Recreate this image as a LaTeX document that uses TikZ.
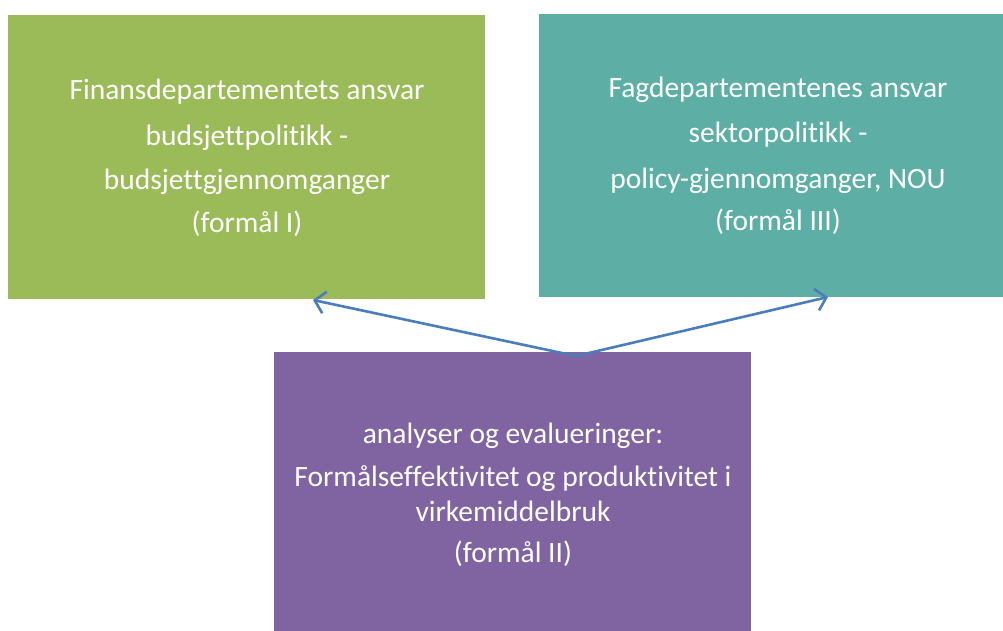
\documentclass[tikz,border=0pt]{standalone}
\usepackage{fontspec}
\setmainfont[Ligatures={NoCommon}]{Carlito}
\usetikzlibrary{arrows.meta}
\definecolor{boxgreen}{HTML}{9BBB59}
\definecolor{boxteal}{HTML}{5DAFA6}
\definecolor{boxpurple}{HTML}{8064A2}
\definecolor{arrowblue}{HTML}{4A7EBB}
\tikzset{
  box/.style={fill=#1, draw=none},
  boxtext/.style={text=white, align=center, font=\fontsize{29.5}{35}\selectfont, inner sep=0pt},
  link/.style={draw=arrowblue, line width=2.6pt, -{Straight Barb[length=10pt,width=22pt,line width=2.6pt]}}
}
\begin{document}
\begin{tikzpicture}[x=1pt,y=-1pt]
\useasboundingbox (0,0) rectangle (1003,630);
\begin{scope}
\clip (0,0) rectangle (1003,630);
\path[box=boxgreen] (8,15) rectangle (485,299);
\node (green) at (246.5,157) [minimum width=477pt, minimum height=284pt] {};
\path[box=boxteal] (539,14) rectangle (1017,297);
\node (teal) at (778,155.5) [minimum width=478pt, minimum height=283pt] {};
\path[box=boxpurple] (274,352) rectangle (751,636);
\node (purple) at (512.5,494) [minimum width=477pt, minimum height=284pt] {};
\end{scope}
\node[boxtext] (gtext) at (247,158) {Finansdepartementets ansvar\\[11pt]budsjettpolitikk -\\[9pt]budsjettgjennomganger\\[8pt](formål I)};
\node[boxtext] (ttext) at (778,156) {Fagdepartementenes ansvar\\[10pt]sektorpolitikk -\\[11pt]policy-gjennomganger, NOU\\[7pt](formål III)};
\node[boxtext] (ptext) at (513,495) {analyser og evalueringer:\\[8pt]Formålseffektivitet og produktivitet i\\virkemiddelbruk\\[6pt](formål II)};
\coordinate (hub) at (576,356);
\coordinate (ltip) at (313,300);
\coordinate (rtip) at (828,297);
\draw[link] (hub) -- (ltip);
\draw[link] (hub) -- (rtip);
\end{tikzpicture}
\end{document}
